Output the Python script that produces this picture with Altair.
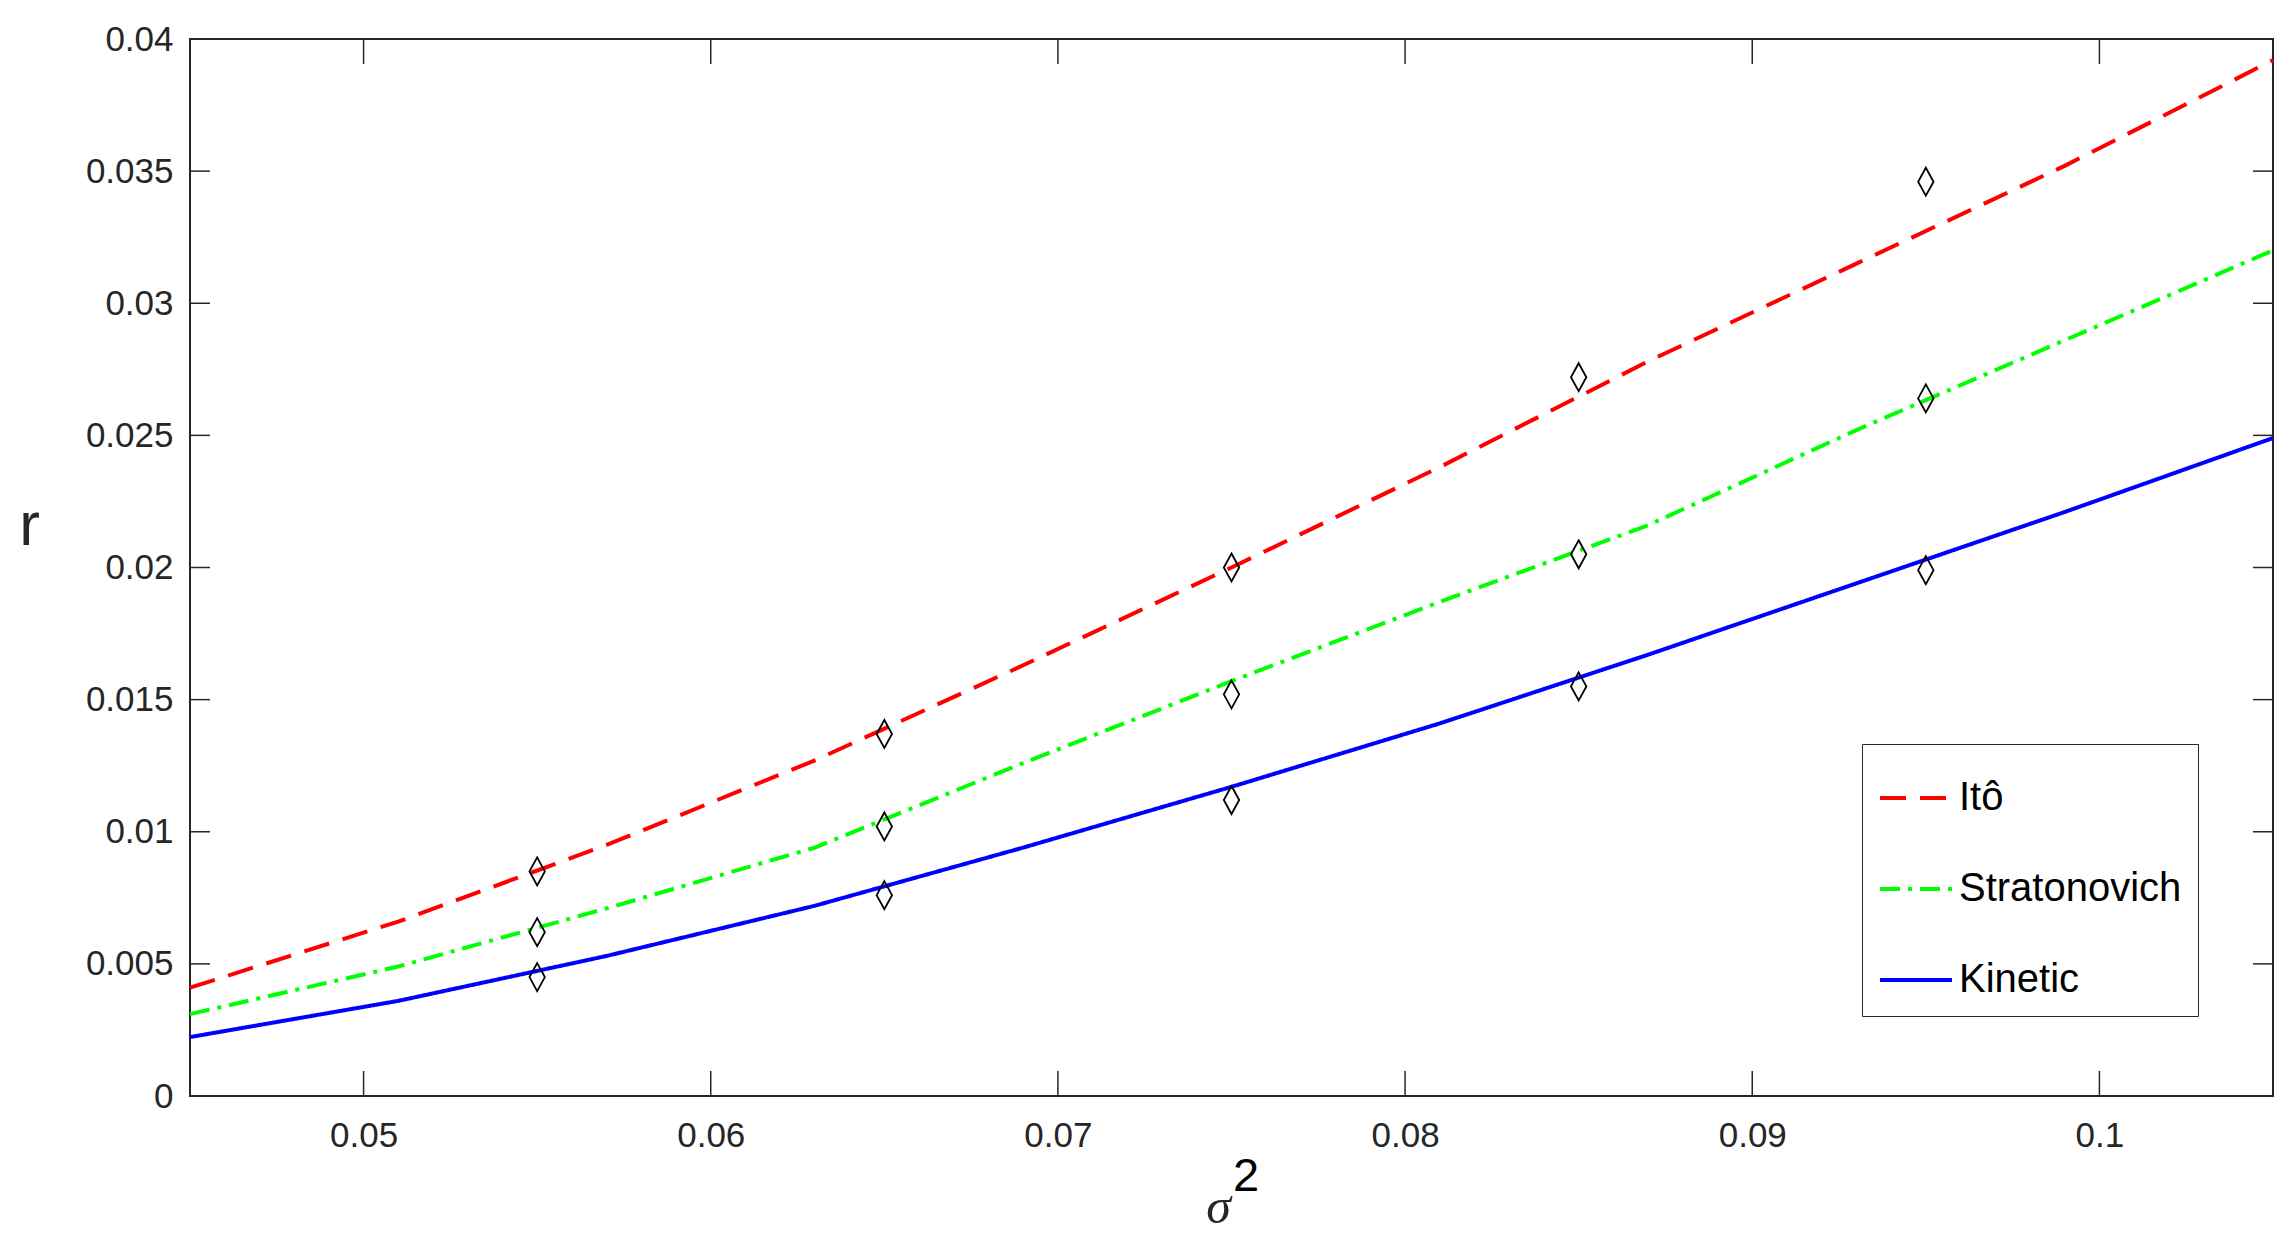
import altair as alt
import pandas as pd

# --- data ---
sigma2 = [0.045, 0.051, 0.057, 0.063, 0.069, 0.075, 0.081, 0.087, 0.093, 0.099, 0.105]
r_ito = [0.0041, 0.0066, 0.0095, 0.0127, 0.0163, 0.0200, 0.0238, 0.0278, 0.0315, 0.0352, 0.0392]
r_strat = [0.0031, 0.0049, 0.0071, 0.0094, 0.0126, 0.0157, 0.0187, 0.0216, 0.0252, 0.0286, 0.0320]
r_kinetic = [0.00223, 0.0036, 0.0053, 0.0072, 0.0094, 0.0117, 0.0141, 0.0167, 0.0194, 0.0221, 0.0249]

marker_sigma2 = [0.055, 0.065, 0.075, 0.085, 0.095]
mc_ito = [0.0085, 0.0137, 0.0200, 0.0272, 0.0346]
mc_strat = [0.0062, 0.0102, 0.0152, 0.0205, 0.0264]
mc_kinetic = [0.0045, 0.0076, 0.0112, 0.0155, 0.0199]

series = ["Itô", "Stratonovich", "Kinetic"]
series_colors = ["#ff0000", "#00ff00", "#0000ff"]
series_dash = [[26, 14], [20, 8, 4, 8], [1, 0]]

x_ticks = [0.05, 0.06, 0.07, 0.08, 0.09, 0.1]
y_ticks = [0, 0.005, 0.01, 0.015, 0.02, 0.025, 0.03, 0.035, 0.04]

W, H = 2083, 1057
INK = "#262626"
FONT = "Liberation Sans"

lines = pd.DataFrame({
    "x": sigma2 * 3,
    "y": r_ito + r_strat + r_kinetic,
    "method": [s for s in series for _ in sigma2],
})
markers = pd.DataFrame({
    "x": marker_sigma2 * 3,
    "y": mc_ito + mc_strat + mc_kinetic,
})
xt = pd.DataFrame({"x": x_ticks})
yt = pd.DataFrame({"y": y_ticks})

x_enc = alt.X(
    "x:Q",
    scale=alt.Scale(domain=[0.045, 0.105], nice=False, zero=False),
    axis=alt.Axis(
        values=x_ticks, format="~g", ticks=False, domain=False, grid=False,
        labelFont=FONT, labelFontSize=35, labelColor=INK, labelPadding=22,
        title="σ", titleFont="Liberation Serif", titleFontStyle="italic",
        titleFontWeight="normal", titleFontSize=50, titleColor=INK,
        titleX=1028, titleY=126, titleBaseline="alphabetic", titleAlign="center",
    ),
)
y_enc = alt.Y(
    "y:Q",
    scale=alt.Scale(domain=[0, 0.04], nice=False),
    axis=alt.Axis(
        values=y_ticks, format="~g", ticks=False, domain=False, grid=False,
        labelFont=FONT, labelFontSize=35, labelColor=INK, labelPadding=17,
        title="r", titleFont=FONT, titleFontWeight="normal", titleFontSize=62,
        titleColor=INK, titleAngle=0, titleX=-161, titleY=505,
        titleAlign="center", titleBaseline="alphabetic",
    ),
)

line_layer = alt.Chart(lines).mark_line(strokeWidth=4).encode(
    x=x_enc,
    y=y_enc,
    color=alt.Color("method:N", scale=alt.Scale(domain=series, range=series_colors), title=None),
    strokeDash=alt.StrokeDash("method:N", scale=alt.Scale(domain=series, range=series_dash), title=None),
)

diamond = "M0,-1L0.55,0L0,1L-0.55,0Z"
marker_layer = alt.Chart(markers).mark_point(
    shape=diamond, size=784, filled=False, color="black", strokeWidth=1.8, opacity=1
).encode(x=x_enc, y=y_enc)

tick_bottom = alt.Chart(xt).mark_rule(color=INK, strokeWidth=1.5).encode(
    x=x_enc, y=alt.value(H), y2=alt.value(H - 25)
)
tick_top = alt.Chart(xt).mark_rule(color=INK, strokeWidth=1.5).encode(
    x=x_enc, y=alt.value(0), y2=alt.value(25)
)
tick_left = alt.Chart(yt).mark_rule(color=INK, strokeWidth=1.5).encode(
    y=y_enc, x=alt.value(0), x2=alt.value(20)
)
tick_right = alt.Chart(yt).mark_rule(color=INK, strokeWidth=1.5).encode(
    y=y_enc, x=alt.value(W), x2=alt.value(W - 20)
)

superscript = alt.Chart(pd.DataFrame({"t": ["2"]})).mark_text(
    font=FONT, fontSize=47, color="black", align="left", baseline="alphabetic"
).encode(text="t:N", x=alt.value(1043), y=alt.value(1152))

chart = alt.layer(
    tick_bottom, tick_top, tick_left, tick_right, line_layer, marker_layer, superscript
).properties(
    width=W,
    height=H,
    autosize=alt.AutoSizeParams(type="none"),
    padding={"left": 182, "top": 31, "right": 9, "bottom": 140},
    background="white",
).configure_view(
    stroke=INK, strokeWidth=2
).configure_legend(
    orient="none", legendX=1672, legendY=705, padding=16,
    strokeColor=INK, fillColor="white",
    labelFont=FONT, labelFontSize=40, labelColor="black", labelLimit=400,
    labelOffset=5, symbolType="stroke", symbolSize=5184, symbolStrokeWidth=4,
    rowPadding=33,
)

chart.save("out.html", embed_options={"renderer": "svg", "actions": False})
